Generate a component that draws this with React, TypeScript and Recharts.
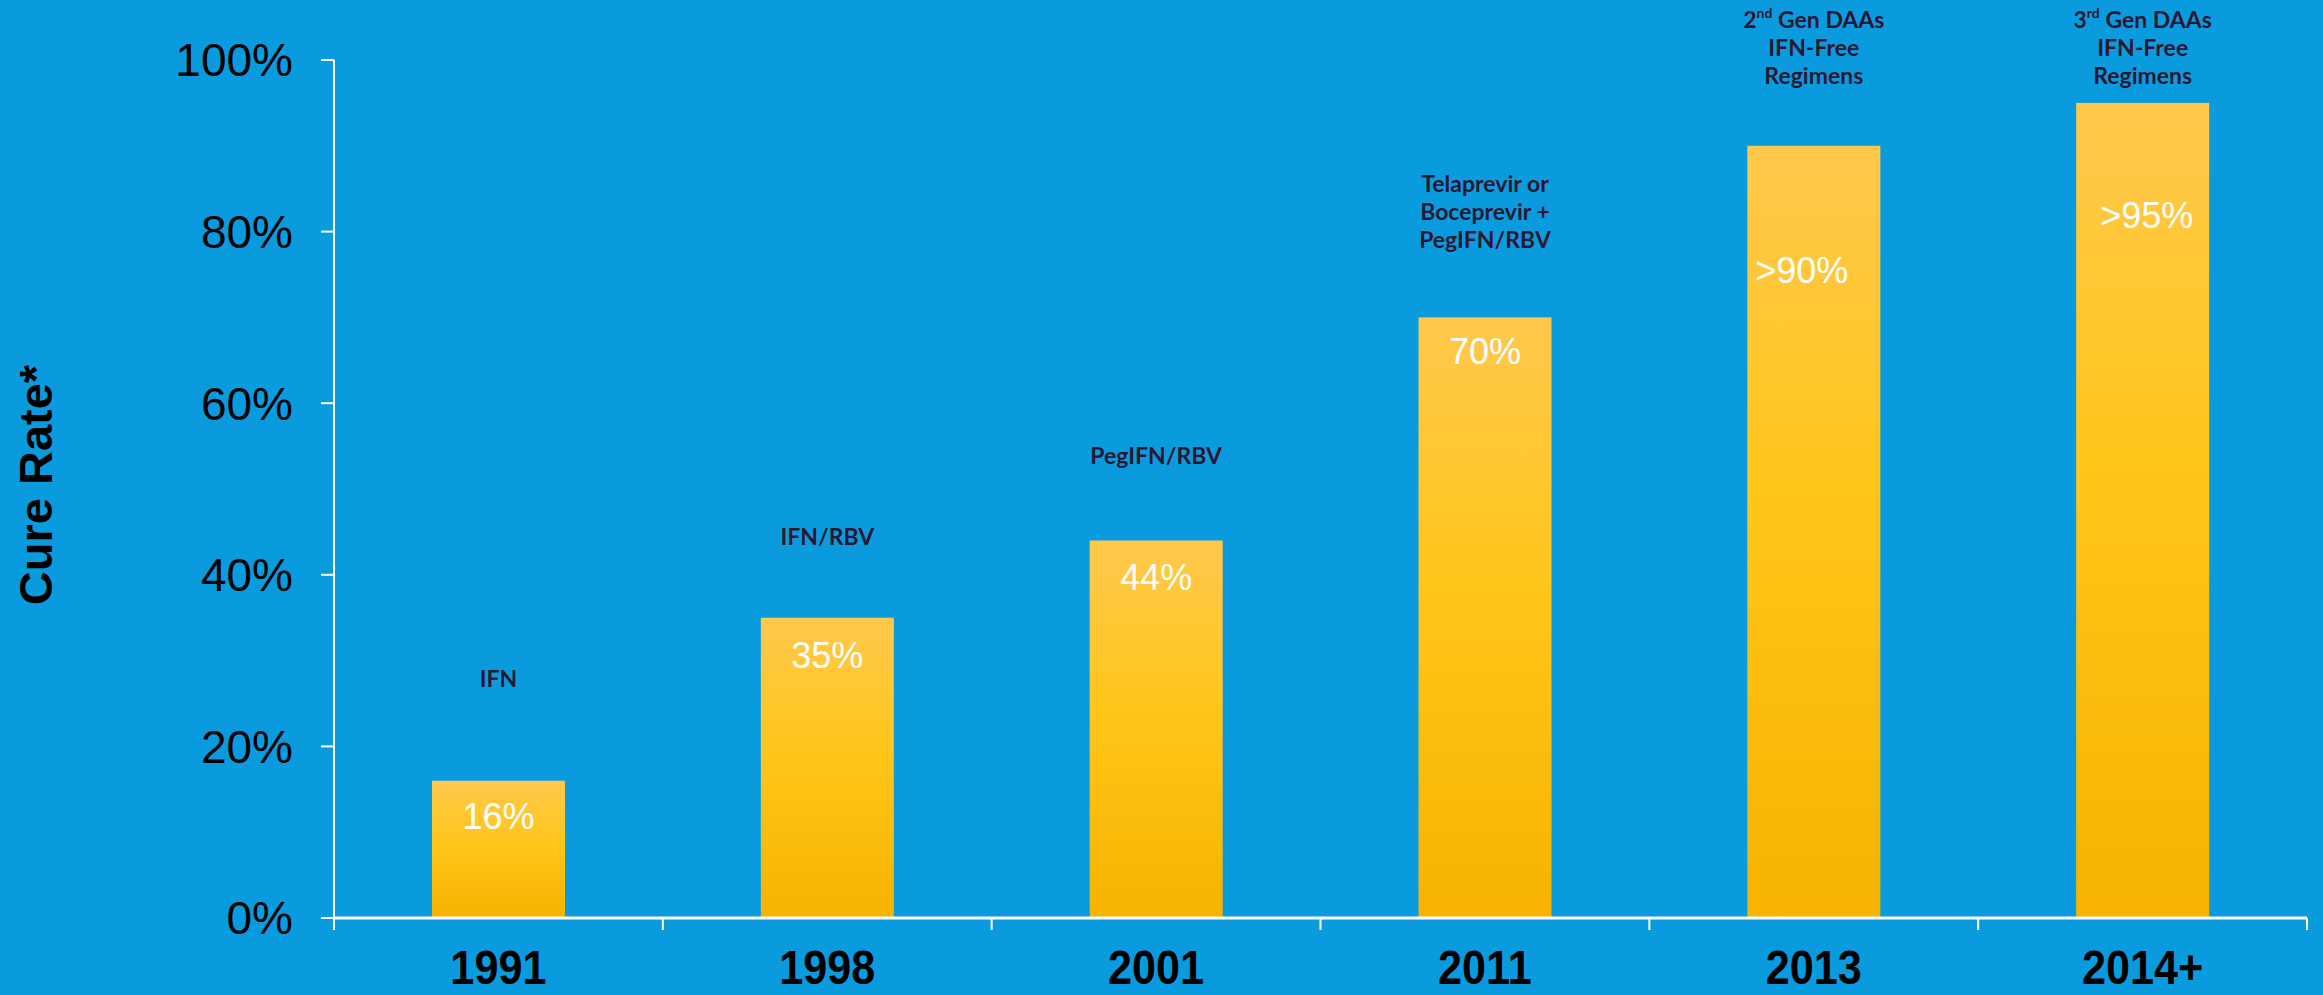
import { BarChart, Bar, XAxis, YAxis } from 'recharts';

const years = ['1991', '1998', '2001', '2011', '2013', '2014+'];
const cureRates = [16, 35, 44, 70, 90, 95];
const rateLabels = ['16%', '35%', '44%', '70%', '>90%', '>95%'];
const treatments = [
  ['IFN'],
  ['IFN/RBV'],
  ['PegIFN/RBV'],
  ['Telaprevir or', 'Boceprevir +', 'PegIFN/RBV'],
  ['2nd Gen DAAs', 'IFN-Free', 'Regimens'],
  ['3rd Gen DAAs', 'IFN-Free', 'Regimens'],
];
const yTicks = [0, 20, 40, 60, 80, 100];

const W = 2323;
const H = 995;
const BG = '#0a9bdf';
const NOTE_COLOR = '#2a1833';
const PLOT_LEFT = 334;
const PLOT_RIGHT = 2307;
const BAND = (PLOT_RIGHT - PLOT_LEFT) / years.length;

// pixel gaps, tuned by eye
const valueDrop = [48, 50, 50, 47, 137, 125];
const valueNudge = [0, 0, 0, 0, -12, 4];
const noteGap = [94, 73, 76, 69, 62, 19];
const NOTE_LINE = 28;

const data = years.map((year, i) => ({
  year,
  value: cureRates[i],
  label: rateLabels[i],
  note: treatments[i],
}));

function NoteLine({ text, x, y }: { text: string; x: number; y: number }) {
  const m = text.match(/^(\d)(st|nd|rd|th) (.*)$/);
  if (!m) {
    return (
      <text x={x} y={y} textAnchor="middle">
        {text}
      </text>
    );
  }
  return (
    <text x={x} y={y} textAnchor="middle">
      <tspan>{m[1]}</tspan>
      <tspan fontSize={14} dy={-10}>
        {m[2]}
      </tspan>
      <tspan dy={10}>{' ' + m[3]}</tspan>
    </text>
  );
}

function BarShape(props: any) {
  const { x, y, width, height, index, payload } = props;
  const cx = x + width / 2;
  const lines: string[] = payload.note;
  const lastBase = y - noteGap[index];
  return (
    <g>
      <rect x={x} y={y} width={width} height={height} fill="url(#barGrad)" />
      <text
        x={cx + valueNudge[index]}
        y={y + valueDrop[index]}
        textAnchor="middle"
        fill="#ffffff"
        fontSize={36}
        fontFamily="'Liberation Sans', Arial, sans-serif"
      >
        {payload.label}
      </text>
      <g fill={NOTE_COLOR} fontSize={23} fontWeight={700} fontFamily="Lato, 'Open Sans', sans-serif">
        {lines.map((t, i) => (
          <NoteLine key={i} text={t} x={cx} y={lastBase - (lines.length - 1 - i) * NOTE_LINE} />
        ))}
      </g>
    </g>
  );
}

function YearTick(props: any) {
  const { x, y, payload, index } = props;
  const half = BAND / 2;
  return (
    <g>
      <line x1={x - half} y1={y} x2={x - half} y2={y + 12} stroke="#ffffff" strokeWidth={2} />
      {index === years.length - 1 && (
        <line x1={x + half} y1={y} x2={x + half} y2={y + 12} stroke="#ffffff" strokeWidth={2} />
      )}
      {/* condensed bold, the reference uses a narrow face */}
      <text
        transform={`translate(${x} ${y + 66}) scale(0.9 1)`}
        x={0}
        y={0}
        textAnchor="middle"
        fill="#000000"
        fontSize={48}
        fontWeight={700}
        fontFamily="'Liberation Sans', Arial, sans-serif"
      >
        {payload.value}
      </text>
    </g>
  );
}

export default function App() {
  return (
    <div style={{ position: 'fixed', left: 0, top: 0, width: W, height: H, background: BG, overflow: 'hidden' }}>
      <BarChart width={W} height={H} data={data} margin={{ top: 60, right: W - PLOT_RIGHT, left: 0, bottom: 0 }}>
        <defs>
          <linearGradient id="barGrad" x1="0" y1="0" x2="0" y2="1">
            <stop offset="0%" stopColor="#ffc84c" />
            <stop offset="45%" stopColor="#ffc61a" />
            <stop offset="100%" stopColor="#f6b300" />
          </linearGradient>
        </defs>
        <XAxis
          dataKey="year"
          height={77}
          tickSize={0}
          tickMargin={0}
          tickLine={false}
          axisLine={{ stroke: '#ffffff', strokeWidth: 3 }}
          tick={<YearTick />}
          interval={0}
        />
        <YAxis
          width={PLOT_LEFT}
          domain={[0, 100]}
          ticks={yTicks}
          tickFormatter={(v: number) => `${v}%`}
          tickSize={13}
          tickMargin={28}
          axisLine={{ stroke: '#ffffff', strokeWidth: 2 }}
          tickLine={{ stroke: '#ffffff', strokeWidth: 2 }}
          tick={{ fill: '#000000', fontSize: 46, fontFamily: "'Liberation Sans', Arial, sans-serif" }}
          label={() => (
            <text
              x={52}
              y={485}
              transform="rotate(-90 52 485)"
              textAnchor="middle"
              fill="#000000"
              fontSize={47}
              fontWeight={700}
              fontFamily="'Liberation Sans', Arial, sans-serif"
            >
              Cure Rate*
            </text>
          )}
        />
        <Bar dataKey="value" barSize={133} shape={<BarShape />} isAnimationActive={false} />
      </BarChart>
    </div>
  );
}
